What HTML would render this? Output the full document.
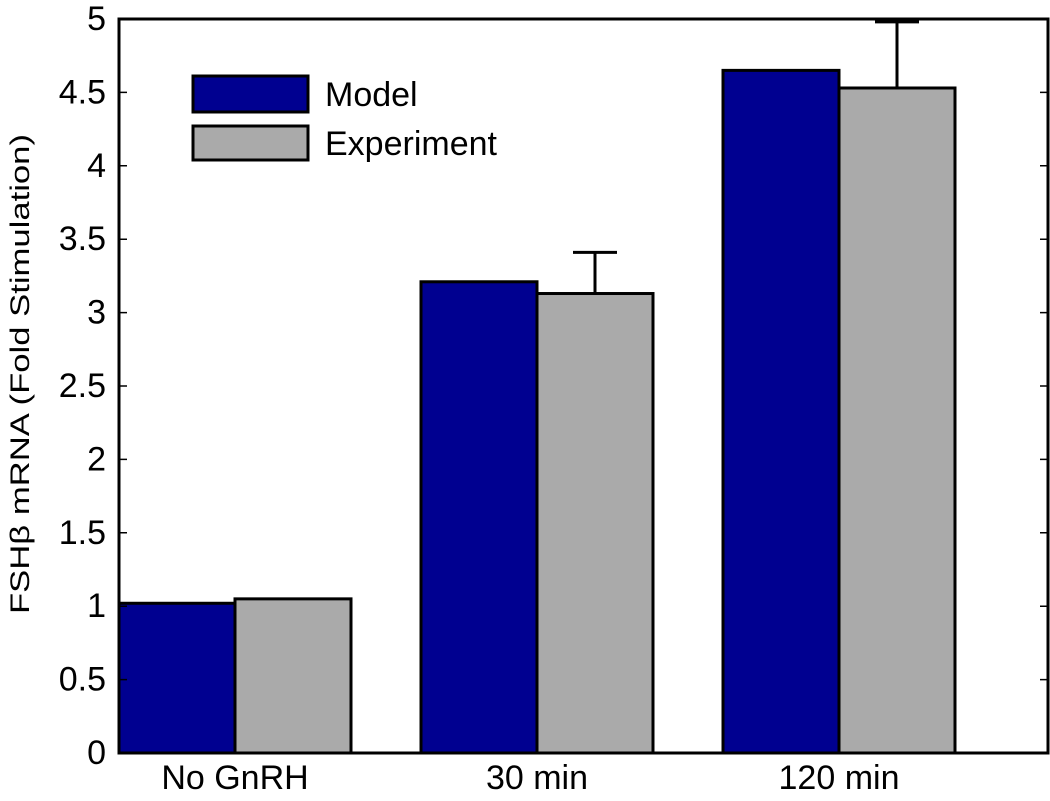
<!DOCTYPE html>
<html><head><meta charset="utf-8"><style>body{margin:0;background:#fff}svg text{font-family:"Liberation Sans",sans-serif;fill:#000}</style></head>
<body>
<svg width="1050" height="796" xmlns="http://www.w3.org/2000/svg">
<g id="plot"></g>
</svg>
<script>
const categories=["No GnRH","30 min","120 min"];
const modelValues=[1.02,3.21,4.65];
const expValues=[1.05,3.13,4.53];
const expErrors=[0,0.28,0.45];
const yTicks=[0,0.5,1,1.5,2,2.5,3,3.5,4,4.5,5];
const yTickLabels=["0","0.5","1","1.5","2","2.5","3","3.5","4","4.5","5"];
const NS="http://www.w3.org/2000/svg";
const L=119,R=1048,T=19,B=753;
const y=v=>B-(v/5)*(B-T);
const xc=i=>235+i*302;
const bw=116;
const g=document.getElementById('plot');
function mk(t,a){const e=document.createElementNS(NS,t);for(const k in a)e.setAttribute(k,a[k]);g.appendChild(e);return e;}
categories.forEach((c,i)=>{
 let r=mk('rect',{x:xc(i)-bw,y:y(modelValues[i]),width:bw,height:B-y(modelValues[i]),fill:'#000090',stroke:'#000','stroke-width':3});
 
 
 let r2=mk('rect',{x:xc(i),y:y(expValues[i]),width:bw,height:B-y(expValues[i]),fill:'#aaaaaa',stroke:'#000','stroke-width':3});
 
 
 if(expErrors[i]>0){
  const ex=xc(i)+bw/2, yt=y(expValues[i]+expErrors[i]);
  let e=mk('path',{d:`M${ex},${y(expValues[i])}V${yt}M${ex-22},${yt}H${ex+22}`,stroke:'#000','stroke-width':3,fill:'none'});
  
  
 }
 let t=mk('text',{x:xc(i),y:789,'font-size':34,'text-anchor':'middle'});t.textContent=c;
 
 
});
yTicks.forEach((v,i)=>{
 mk('path',{d:`M${L},${y(v)}h8M${R},${y(v)}h-8`,stroke:'#000','stroke-width':1.5});
 let t=mk('text',{x:106,y:y(v)+11,'font-size':34,'text-anchor':'end'});t.textContent=yTickLabels[i];
 
 
});
let ax=mk('rect',{x:L,y:T,width:R-L,height:B-T,fill:'none',stroke:'#000','stroke-width':3});


let yt=mk('text',{x:0,y:0,'font-size':27,'text-anchor':'middle',textLength:480,lengthAdjust:'spacingAndGlyphs',transform:'translate(29,374) rotate(-90)'});yt.textContent="FSHβ mRNA (Fold Stimulation)";


let l1=mk('rect',{x:193,y:76,width:115,height:36,fill:'#000090',stroke:'#000','stroke-width':3});


let l2=mk('rect',{x:193,y:126,width:115,height:34,fill:'#aaaaaa',stroke:'#000','stroke-width':3});


let lt1=mk('text',{x:325,y:106,'font-size':34});lt1.textContent="Model";


let lt2=mk('text',{x:325,y:155,'font-size':34});lt2.textContent="Experiment";


</script>
</body></html>
